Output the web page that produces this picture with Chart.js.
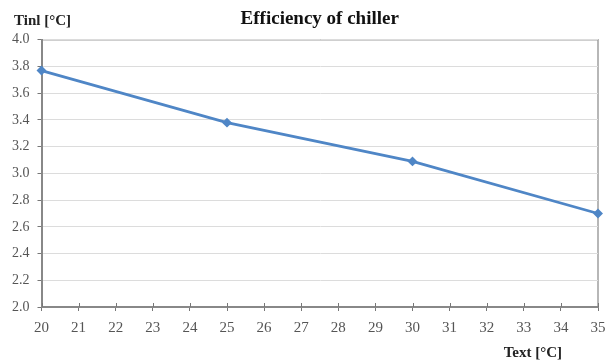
<!DOCTYPE html>
<html><head><meta charset="utf-8">
<script src="https://cdn.jsdelivr.net/npm/chart.js@4/dist/chart.umd.min.js"></script>
<style>html,body{margin:0;padding:0;background:#fff}#wrap{width:606px;height:360px}</style>
</head><body><div id="wrap"><canvas id="c" width="606" height="360"></canvas></div>
<script>
const textTemps = [20, 25, 30, 35];
const tinlValues = [3.77, 3.38, 3.09, 2.70];
const chartTitle = 'Efficiency of chiller';
const yAxisLabel = 'Tinl [°C]';
const xAxisLabel = 'Text [°C]';

const serif = "'Liberation Serif', 'DejaVu Serif', serif";
const axisLabels = {
  id: 'axisLabels',
  beforeDraw(chart) {
    const {ctx, chartArea: a} = chart;
    ctx.save();
    ctx.strokeStyle = '#a0a0a0';
    ctx.lineWidth = 1.5;
    ctx.beginPath();
    ctx.moveTo(a.left, a.top); ctx.lineTo(a.right, a.top); ctx.lineTo(a.right, a.bottom);
    ctx.stroke();
    ctx.restore();
  },
  afterDatasetsDraw(chart) {
    const {ctx, chartArea: a, scales} = chart;
    ctx.save();
    ctx.strokeStyle = '#777';
    ctx.lineWidth = 1;
    ctx.beginPath();
    scales.x.ticks.forEach(t => {
      const px = Math.round(scales.x.getPixelForValue(t.value)) + 0.5;
      ctx.moveTo(px, a.bottom); ctx.lineTo(px, a.bottom - 4);
    });
    ctx.stroke();
    ctx.restore();
  },
  afterDraw(chart) {
    const {ctx} = chart;
    ctx.save();
    ctx.fillStyle = '#222';
    ctx.font = 'bold 15px ' + serif;
    ctx.textBaseline = 'middle';
    ctx.textAlign = 'left';
    ctx.fillText(yAxisLabel, 14, 21);
    ctx.textAlign = 'right';
    ctx.fillText(xAxisLabel, 562, 353);
    ctx.restore();
  }
};

new Chart(document.getElementById('c'), {
  type: 'line',
  data: {
    datasets: [{
      data: textTemps.map((x, i) => ({x: x, y: tinlValues[i]})),
      borderColor: '#4f86c6',
      backgroundColor: '#4f86c6',
      borderWidth: 2.8,
      pointStyle: 'rectRot',
      pointRadius: 3,
      tension: 0,
      clip: false
    }]
  },
  options: {
    responsive: false,
    animation: false,
    layout: {padding: {left: 4, right: 8, top: 0, bottom: 15}},
    plugins: {
      legend: {display: false},
      tooltip: {enabled: false},
      title: {display: true, text: chartTitle, color: '#111', fullSize: false,
        font: {family: serif, size: 19, weight: 'bold'}, padding: {top: 8, bottom: 9}}
    },
    scales: {
      x: {
        type: 'linear', min: 20, max: 35,
        afterFit: s => { s.paddingRight = 0; },
        ticks: {stepSize: 1, color: '#555', font: {family: serif, size: 15}, padding: 8},
        grid: {drawOnChartArea: false, drawTicks: true, tickLength: 4, tickColor: '#777'},
        border: {color: '#888', width: 2}
      },
      y: {
        min: 2.0, max: 4.0,
        ticks: {stepSize: 0.2, color: '#555', font: {family: serif, size: 14}, padding: 8,
          callback: v => v.toFixed(1)},
        grid: {color: '#dcdcdc', lineWidth: 1, tickLength: 4, tickColor: '#777'},
        border: {color: '#888', width: 2}
      }
    }
  },
  plugins: [axisLabels]
});
</script></body></html>
